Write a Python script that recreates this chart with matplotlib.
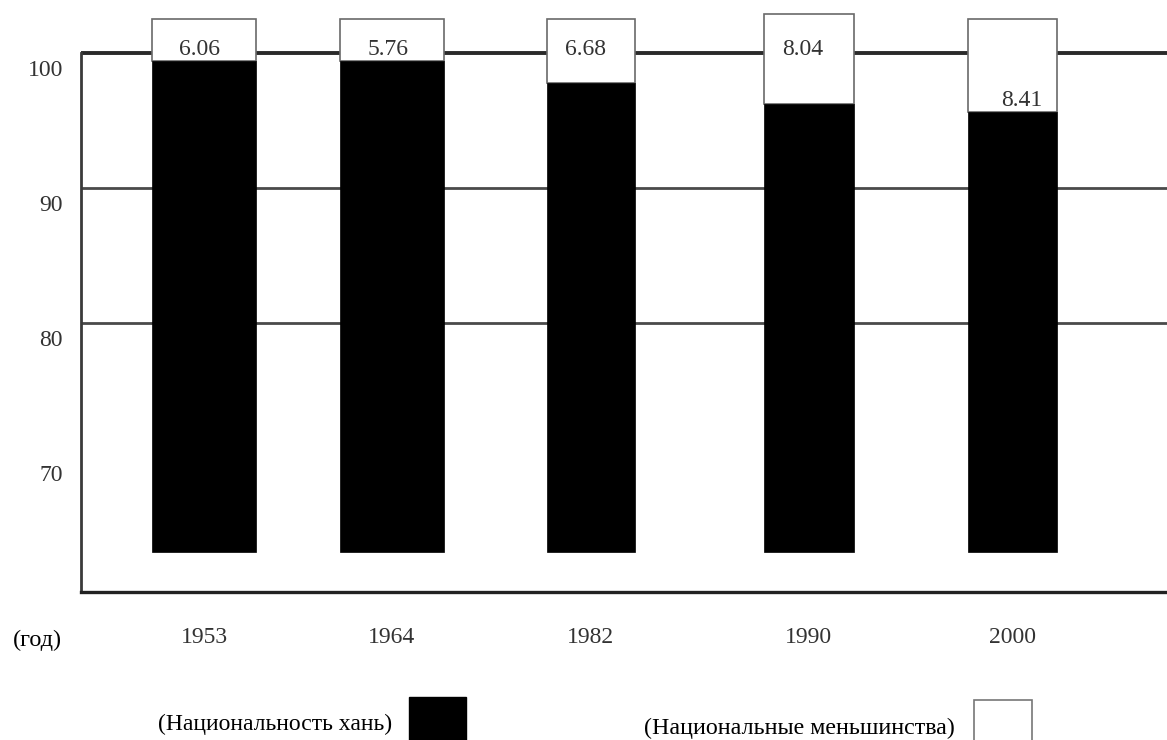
import matplotlib
matplotlib.use("Agg")
import matplotlib.pyplot as plt
from matplotlib.patches import Rectangle
from matplotlib.transforms import ScaledTranslation

# ---- data ----
years = ["1953", "1964", "1982", "1990", "2000"]
minority_labels = ["6.06", "5.76", "6.68", "8.04", "8.41"]
han_top = [99.4, 99.4, 97.76, 96.2, 95.6]       # top of the black (Han) bar
total_top = [102.5, 102.5, 102.5, 102.87, 102.5]  # top of the white (minorities) box
bar_base = 63.0
ytick_vals = [70, 80, 90, 100]
grid_vals = [80, 90, 100]

# ---- layout ----
x_pos = [1.0, 1.926, 2.906, 3.980, 4.983]
widths = [0.512, 0.512, 0.433, 0.443, 0.438]
label_y = [100.25, 100.25, 100.25, 100.25, 96.45]
label_dx = [-0.02, -0.02, -0.025, -0.03, 0.045]

W, H = 1167, 740
fig = plt.figure(figsize=(W / 100, H / 100), dpi=100)
fig.patch.set_facecolor("white")
serif = ["Liberation Serif", "DejaVu Serif"]
plt.rcParams["font.family"] = serif

ax = fig.add_axes([81 / W, (H - 592) / H, 1 - 81 / W, 592 / H])
ax.set_xlim(0.394, 5.744)
ax.set_ylim(60.07, 103.93)

# gridlines
for g in grid_vals:
    if g == 100:
        ax.axhline(g, color="#2a2a2a", lw=2.8, zorder=1)
    else:
        ax.axhline(g, color="#4a4a4a", lw=2.0, zorder=1)

# bars
ax.bar(x_pos, [t - h for t, h in zip(total_top, han_top)], bottom=han_top,
       width=widths, color="white", edgecolor="#6a6a6a", linewidth=1.2, zorder=3)
ax.bar(x_pos, [h - bar_base for h in han_top], bottom=bar_base,
       width=widths, color="black", edgecolor="black", linewidth=0.5, zorder=4)

for x, dx, y, lab in zip(x_pos, label_dx, label_y, minority_labels):
    ax.text(x + dx, y, lab, ha="center", va="center", fontsize=17,
            color="#333333", zorder=5)

# spines
for s in ["top", "right"]:
    ax.spines[s].set_visible(False)
ax.spines["left"].set_color("#3a3a3a")
ax.spines["left"].set_linewidth(2.0)
ax.spines["left"].set_bounds(60.07, 100)
ax.spines["bottom"].set_color("#222222")
ax.spines["bottom"].set_linewidth(2.4)

# ticks
ax.set_yticks(ytick_vals)
ax.set_yticklabels([str(v) for v in ytick_vals], fontsize=17, color="#333333")
ax.tick_params(axis="y", length=0, pad=13)
off = ScaledTranslation(0, -0.15, fig.dpi_scale_trans)
for lbl in ax.get_yticklabels():
    lbl.set_transform(lbl.get_transform() + off)

ax.set_xticks(x_pos)
ax.set_xticklabels(years, fontsize=17, color="#333333")
ax.tick_params(axis="x", length=0, pad=25)

# (год)
fig.text(37 / W, 1 - 640 / H, "(год)", ha="center", va="center",
         fontsize=17.5, color="black")

# legend
fig.text(392 / W, 1 - 724 / H, "(Национальность хань)", ha="right",
         va="center", fontsize=17, color="black")
fig.patches.append(Rectangle((409 / W, 0), 57 / W, 43 / H, transform=fig.transFigure,
                             facecolor="black", edgecolor="black", figure=fig))
fig.text(955 / W, 1 - 728 / H, "(Национальные меньшинства)", ha="right",
         va="center", fontsize=17.3, color="black")
fig.patches.append(Rectangle((974 / W, -0.01), 58 / W, 40 / H + 0.01,
                             transform=fig.transFigure, facecolor="white",
                             edgecolor="#777777", linewidth=1.2, figure=fig))

fig.savefig("out.png", dpi=100)
